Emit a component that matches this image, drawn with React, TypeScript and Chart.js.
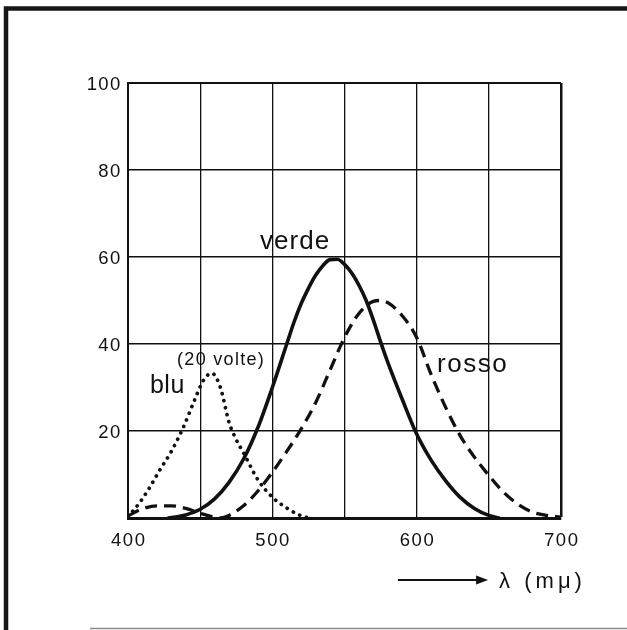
import { useEffect, useRef } from "react";
import { Chart, registerables } from "chart.js";

Chart.register(...registerables);

// Spectral sensitivity curves (wavelength in mμ, relative response)
const verdeLambda = [428, 435, 440, 450, 460, 470, 480, 490, 500, 510, 515, 520, 525, 530, 535, 540, 545, 550, 555, 560, 565, 570, 575, 580, 590, 600, 610, 620, 630, 640, 650, 657];
const verdeValue = [0, 0.35, 0.7, 2.0, 4.4, 8.2, 13.5, 20.8, 30, 40, 45, 49.3, 52.8, 55.8, 58, 59.4, 59.5, 58.3, 56.3, 53.5, 50, 45.5, 40.5, 35.8, 27.3, 19.3, 13.3, 8.6, 4.8, 2.2, 0.6, 0];

const rossoLambda = [400, 410, 420, 430, 440, 450, 458, 464, 470, 480, 490, 500, 510, 520, 530, 540, 550, 560, 570, 575, 580, 590, 600, 610, 620, 630, 640, 650, 660, 670, 680, 690, 700];
const rossoValue = [0.5, 2.1, 2.8, 2.8, 2.2, 1.1, 0.3, 0, 0.6, 2.8, 6.2, 10.5, 15.3, 20.5, 26.5, 34, 41.5, 47, 49.8, 50, 49.5, 46.5, 41.5, 33, 25.5, 19, 14, 9.8, 6, 3.2, 1.4, 0.6, 0.2];

// blue response, shown magnified 20 times
const bluLambda = [400, 408, 415, 422, 430, 438, 446, 452, 458, 464, 470, 475, 480, 490, 500, 510, 518, 525];
const bluValue = [0.3, 3.5, 7, 11, 15.3, 20.6, 27, 31.5, 33.3, 30, 22, 18, 15, 8.8, 4.8, 2.3, 0.8, 0];

const xTickLabels = [400, 500, 600, 700];
const yTickLabels = [20, 40, 60, 80, 100];

const FONT = '"Liberation Sans", Arial, Helvetica, sans-serif';

// Curve names, anchored in data coordinates (left edge, baseline)
const curveLabels = [
  { text: "verde", x: 491.5, y: 61.8, size: 26, spacing: 1 },
  { text: "rosso", x: 614.1, y: 33.6, size: 26, spacing: 1.5 },
  { text: "blu", x: 415.2, y: 28.7, size: 25, spacing: 0.5 },
  { text: "(20 volte)", x: 434, y: 35.2, size: 18, spacing: 1.3 },
];

const toPoints = (xs: number[], ys: number[]) => xs.map((x, i) => ({ x, y: ys[i] }));

const setSpacing = (ctx: CanvasRenderingContext2D, px: number) => {
  (ctx as any).letterSpacing = `${px}px`;
};

const decorPlugin = {
  id: "decor",
  afterDraw(chart: any) {
    const ctx: CanvasRenderingContext2D = chart.ctx;
    const xs = chart.scales.x;
    const ys = chart.scales.y;
    const area = chart.chartArea;
    ctx.save();

    // tick labels
    ctx.fillStyle = "#111";
    ctx.font = `18.5px ${FONT}`;
    setSpacing(ctx, 1.6);
    ctx.textBaseline = "alphabetic";
    ctx.textAlign = "center";
    xTickLabels.forEach((v) => {
      ctx.fillText(String(v), xs.getPixelForValue(v) + 0.8, area.bottom + 28);
    });
    setSpacing(ctx, 1.3);
    ctx.textAlign = "right";
    yTickLabels.forEach((v) => {
      ctx.fillText(String(v), area.left - 6.5, ys.getPixelForValue(v) + 6.7);
    });

    // curve names
    ctx.textAlign = "left";
    curveLabels.forEach((l) => {
      ctx.font = `${l.size}px ${FONT}`;
      setSpacing(ctx, l.spacing);
      ctx.fillText(l.text, xs.getPixelForValue(l.x), ys.getPixelForValue(l.y));
    });

    // axis caption with arrow
    const ay = area.bottom + 62;
    const ax0 = xs.getPixelForValue(587);
    const ax1 = xs.getPixelForValue(649.5);
    ctx.strokeStyle = "#111";
    ctx.lineWidth = 2;
    ctx.beginPath();
    ctx.moveTo(ax0, ay);
    ctx.lineTo(ax1 - 8, ay);
    ctx.stroke();
    ctx.beginPath();
    ctx.moveTo(ax1, ay);
    ctx.lineTo(ax1 - 12, ay - 4.5);
    ctx.lineTo(ax1 - 12, ay + 4.5);
    ctx.closePath();
    ctx.fill();
    ctx.font = `22px ${FONT}`;
    setSpacing(ctx, 4);
    ctx.fillText("λ (mμ)", ax1 + 11, ay + 8);
    setSpacing(ctx, 0);

    // page frame
    ctx.strokeStyle = "#151515";
    ctx.lineWidth = 4.5;
    ctx.beginPath();
    ctx.moveTo(6, 630);
    ctx.lineTo(6, 8.5);
    ctx.lineTo(627, 8.5);
    ctx.stroke();
    ctx.strokeStyle = "#8a8a8a";
    ctx.lineWidth = 1.5;
    ctx.beginPath();
    ctx.moveTo(90, 628.5);
    ctx.lineTo(627, 628.5);
    ctx.stroke();

    ctx.restore();
  },
};

export default function App() {
  const canvasRef = useRef<HTMLCanvasElement | null>(null);

  useEffect(() => {
    const canvas = canvasRef.current;
    if (!canvas) return;
    const chart = new Chart(canvas, {
      type: "line",
      data: {
        datasets: [
          {
            label: "verde",
            data: toPoints(verdeLambda, verdeValue),
            borderColor: "#111",
            borderWidth: 3.6,
            pointRadius: 0,
            cubicInterpolationMode: "monotone",
            borderCapStyle: "round",
            fill: false,
          },
          {
            label: "rosso",
            data: toPoints(rossoLambda, rossoValue),
            borderColor: "#111",
            borderWidth: 3.3,
            borderDash: [12, 7],
            pointRadius: 0,
            cubicInterpolationMode: "monotone",
            fill: false,
          },
          {
            label: "blu",
            data: toPoints(bluLambda, bluValue),
            borderColor: "#111",
            borderWidth: 3.7,
            borderDash: [0.1, 7],
            borderCapStyle: "round",
            pointRadius: 0,
            cubicInterpolationMode: "monotone",
            fill: false,
          },
        ],
      },
      options: {
        responsive: false,
        animation: false,
        devicePixelRatio: 1,
        layout: { padding: { left: 128, top: 83, right: 66, bottom: 112 } },
        plugins: { legend: { display: false }, tooltip: { enabled: false } },
        scales: {
          x: {
            type: "linear",
            min: 400,
            max: 700,
            ticks: { display: false, stepSize: 50 },
            grid: {
              color: "#111",
              lineWidth: (c: any) => (c.tick && c.tick.value === 700 ? 2.5 : 1.3),
              drawTicks: false,
            },
            border: { display: true, color: "#111", width: 3 },
            afterFit: (s: any) => {
              s.height = 0;
            },
          },
          y: {
            type: "linear",
            min: 0,
            max: 100,
            ticks: { display: false, stepSize: 20 },
            grid: {
              color: "#111",
              lineWidth: (c: any) => (c.tick && c.tick.value === 100 ? 2 : 1.5),
              drawTicks: false,
            },
            border: { display: true, color: "#111", width: 2 },
            afterFit: (s: any) => {
              s.width = 0;
            },
          },
        },
      },
      plugins: [decorPlugin],
    } as any);
    return () => chart.destroy();
  }, []);

  return (
    <div style={{ position: "absolute", left: 0, top: 0, width: 627, height: 630, background: "#fff" }}>
      <canvas ref={canvasRef} width={627} height={630} style={{ display: "block" }} />
    </div>
  );
}
